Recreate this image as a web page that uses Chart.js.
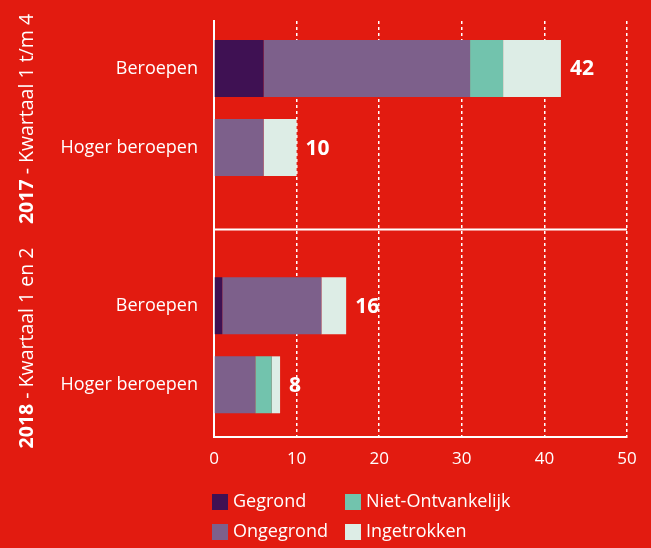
<!DOCTYPE html>
<html>
<head>
<meta charset="utf-8">
<script src="https://cdn.jsdelivr.net/npm/chart.js@4"></script>
<style>
  html, body { margin: 0; padding: 0; background: #e21b10; }
  #wrap { width: 651px; height: 548px; }
</style>
</head>
<body>
<div id="wrap"><canvas id="myChart" width="651" height="548"></canvas></div>
<script>
// rows, top to bottom; the empty one is the gap between the two periods
const categories = ['Beroepen', 'Hoger beroepen', '', 'Beroepen', 'Hoger beroepen'];
const groupYears = ['2017', '2018'];
const groupPeriods = [' - Kwartaal 1 t/m 4', ' - Kwartaal 1 en 2'];
const seriesNames = ['Gegrond', 'Ongegrond', 'Niet-Ontvankelijk', 'Ingetrokken'];
const gegrond = [6, 0, null, 1, 0];
const ongegrond = [25, 6, null, 12, 5];
const nietOntvankelijk = [4, 0, null, 0, 2];
const ingetrokken = [7, 4, null, 3, 1];
const xTicks = [0, 10, 20, 30, 40, 50];

const colors = ['#3f1153', '#7d608b', '#72c3ad', '#ddede6'];
const font = 'Open Sans';

const series = [gegrond, ongegrond, nietOntvankelijk, ingetrokken];
const totals = categories.map((c, i) => series.reduce((s, arr) => s + (arr[i] || 0), 0));

const datasets = series.map((arr, k) => ({
    label: seriesNames[k],
    data: arr.map((v, i) => ({ x: v, y: i })),
    backgroundColor: colors[k],
    borderWidth: 0,
    barPercentage: 0.72,
    categoryPercentage: 1
}));

const extras = {
    id: 'extras',
    afterDatasetsDraw(chart) {
        const ctx = chart.ctx;
        const xs = chart.scales.x;
        const ys = chart.scales.y;
        ctx.save();

        // line between the two periods
        ctx.strokeStyle = '#fff';
        ctx.lineWidth = 2;
        ctx.beginPath();
        ctx.moveTo(xs.left, ys.getPixelForValue(2.035));
        ctx.lineTo(xs.right, ys.getPixelForValue(2.035));
        ctx.stroke();

        // totals next to bars
        ctx.fillStyle = '#fff';
        ctx.font = 'bold 21px ' + font;
        ctx.textBaseline = 'middle';
        ctx.textAlign = 'left';
        totals.forEach((t, i) => {
            if (!categories[i]) return;
            ctx.fillText(t, xs.getPixelForValue(t) + 9, ys.getPixelForValue(i) + 1);
        });

        // rotated period labels
        const centers = [119, 348];
        groupYears.forEach((yr, g) => {
            ctx.save();
            ctx.translate(27, centers[g]);
            ctx.rotate(-Math.PI / 2);
            ctx.font = 'bold 19.5px ' + font;
            const w1 = ctx.measureText(yr).width;
            ctx.font = '19.5px ' + font;
            const w2 = ctx.measureText(groupPeriods[g]).width;
            const x0 = -(w1 + w2) / 2;
            ctx.font = 'bold 19.5px ' + font;
            ctx.fillText(yr, x0, 0);
            ctx.font = '19.5px ' + font;
            ctx.fillText(groupPeriods[g], x0 + w1, 0);
            ctx.restore();
        });

        // legend, 2 x 2
        const cols = [212, 345];
        const rows = [502, 532];
        ctx.font = '18px ' + font;
        seriesNames.forEach((name, k) => {
            const x = cols[Math.floor(k / 2)];
            const y = rows[k % 2];
            ctx.fillStyle = colors[k];
            ctx.fillRect(x, y - 8, 16, 16);
            ctx.fillStyle = '#fff';
            ctx.fillText(name, x + 21, y);
        });
        ctx.restore();
    }
};

new Chart(document.getElementById('myChart').getContext('2d'), {
    type: 'bar',
    data: { datasets: datasets },
    options: {
        responsive: false,
        animation: false,
        indexAxis: 'y',
        layout: { padding: { top: 21, right: 24, left: 0, bottom: 0 } },
        plugins: { legend: { display: false }, tooltip: { enabled: false } },
        scales: {
            x: {
                type: 'linear',
                stacked: true,
                min: 0,
                max: 50,
                afterBuildTicks: (axis) => { axis.ticks = xTicks.map(v => ({ value: v })); },
                afterFit: (axis) => { axis.height = 111; },
                grid: { color: '#fff', lineWidth: 1.5, drawTicks: false },
                border: { color: '#fff', width: 2, dash: [3, 3] },
                ticks: { color: '#fff', font: { family: font, size: 17 }, padding: 12 }
            },
            y: {
                type: 'linear',
                stacked: true,
                reverse: true,
                offset: false,
                min: -0.6,
                max: 4.66,
                afterBuildTicks: (axis) => {
                    axis.ticks = categories.map((c, i) => ({ value: i })).filter(t => categories[t.value]);
                },
                afterFit: (axis) => {
                    axis.width = 214;
                    axis.paddingTop = 0;
                    axis.paddingBottom = 0;
                },
                grid: { display: false, drawTicks: false, offset: false },
                border: { color: '#fff', width: 2 },
                ticks: {
                    color: '#fff',
                    font: { family: font, size: 18 },
                    padding: 16,
                    callback: (v) => categories[v]
                }
            }
        }
    },
    plugins: [extras]
});
</script>
</body>
</html>
